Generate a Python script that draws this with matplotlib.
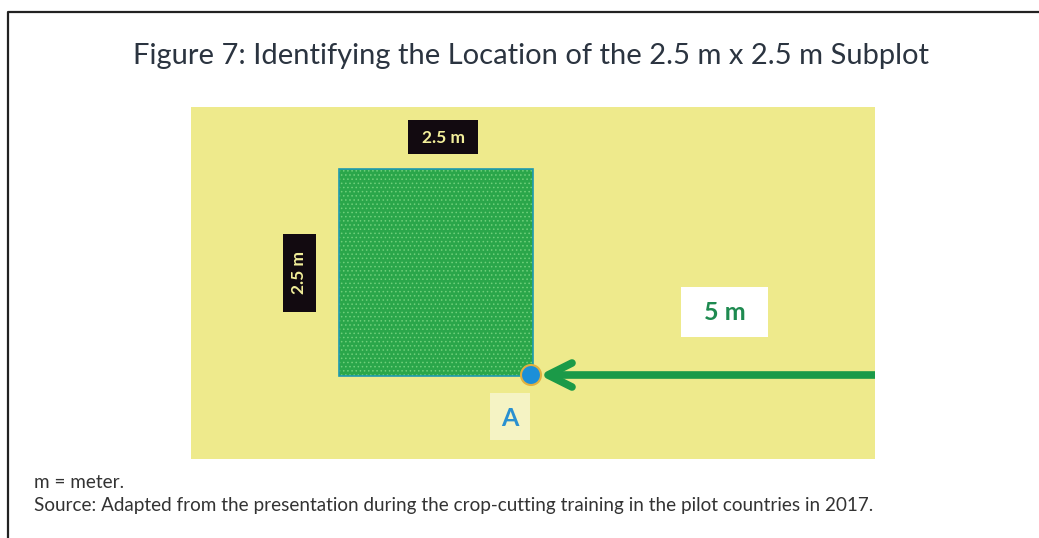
import matplotlib

matplotlib.use("Agg")
import matplotlib.pyplot as plt
from matplotlib.patches import Rectangle, Circle

TITLE = "Figure 7: Identifying the Location of the 2.5 m x 2.5 m Subplot"
NOTES = ["m = meter.",
         "Source: Adapted from the presentation during the crop-cutting training in the pilot countries in 2017."]

# diagram labels
SIDE_LABEL = "2.5 m"
DIST_LABEL = "5 m"
POINT_LABEL = "A"

W, H = 1039, 538
plt.rcParams["font.family"] = ["Lato", "DejaVu Sans"]
plt.rcParams["hatch.linewidth"] = 0.6

fig = plt.figure(figsize=(W / 100, H / 100), dpi=100)
ax = fig.add_axes([0, 0, 1, 1])
ax.set_xlim(0, W)
ax.set_ylim(H, 0)
ax.axis("off")

# frame (top + left only)
ax.plot([8, 8, W], [H, 11.5, 11.5], color="#222222", lw=1.6, solid_capstyle="butt")

ax.text(531, 56, TITLE, ha="center", va="center", fontsize=21, color="#2b3440")

# yellow field
ax.add_patch(Rectangle((191, 107), 684, 352, facecolor="#eeea8c", edgecolor="none"))

# green subplot with dotted texture
ax.add_patch(Rectangle((339, 169), 194, 207, facecolor="#2aa64a", edgecolor="#6fd07a",
                       hatch="....", lw=0))
ax.add_patch(Rectangle((339, 169), 194, 207, facecolor="none", edgecolor="#1f9ab0", lw=1.2))

# top label
ax.add_patch(Rectangle((408, 120), 70, 34, facecolor="#120a10", edgecolor="none"))
ax.text(443, 138, SIDE_LABEL, ha="center", va="center", fontsize=12.5,
        fontweight="bold", color="#f2ee9a")
# side label
ax.add_patch(Rectangle((283, 234), 33, 78, facecolor="#120a10", edgecolor="none"))
ax.text(299.5, 273, SIDE_LABEL, ha="center", va="center", fontsize=12.5,
        fontweight="bold", color="#f2ee9a", rotation=90)

# arrow line toward point A
ax.plot([548, 875], [375, 375], color="#1b9a48", lw=5.5, solid_capstyle="butt")
ax.plot([572, 548, 572], [363, 375, 387], color="#1b9a48", lw=5.5,
        solid_capstyle="round", solid_joinstyle="round")

# point A
ax.add_patch(Circle((531, 375), 10, facecolor="#1c8fd8", edgecolor="#e0b040", lw=1.5, zorder=5))
ax.add_patch(Rectangle((490, 393), 40, 47, facecolor="#f5f3c4", edgecolor="none"))
ax.text(510, 418, POINT_LABEL, ha="center", va="center", fontsize=18,
        fontweight="bold", color="#2a90d0")

# distance label
ax.add_patch(Rectangle((681, 287), 87, 50, facecolor="white", edgecolor="none"))
ax.text(724.5, 313, DIST_LABEL, ha="center", va="center", fontsize=18,
        fontweight="bold", color="#1e8a50")

# notes
ax.text(34, 483, NOTES[0], ha="left", va="center", fontsize=13.6, color="#333333")
ax.text(34, 506, NOTES[1], ha="left", va="center", fontsize=13.6, color="#333333")

fig.savefig("out.png", dpi=100)
